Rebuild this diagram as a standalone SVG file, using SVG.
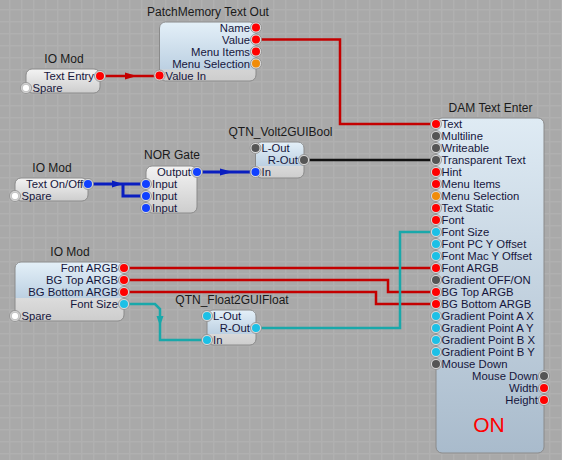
<svg xmlns="http://www.w3.org/2000/svg" width="562" height="460" viewBox="0 0 562 460">
<defs>
<pattern id="grid" x="9" y="9" width="12" height="12" patternUnits="userSpaceOnUse">
<rect width="12" height="12" fill="#a9a9a9"/>
<rect x="0" y="0" width="1.5" height="12" fill="#b0b0b0"/>
<rect x="0" y="0" width="12" height="1.5" fill="#b0b0b0"/>
</pattern>
<linearGradient id="gBlue" x1="0" y1="0" x2="0" y2="1">
<stop offset="0" stop-color="#e4f0f8"/>
<stop offset="1" stop-color="#bcd0e2"/>
</linearGradient>
<linearGradient id="gGray" x1="0" y1="0" x2="0" y2="1">
<stop offset="0" stop-color="#f3f3f3"/>
<stop offset="1" stop-color="#cdcdcd"/>
</linearGradient>
<linearGradient id="gDam" x1="0" y1="0" x2="0" y2="1">
<stop offset="0" stop-color="#dfebf4"/>
<stop offset="1" stop-color="#a9bbcc"/>
</linearGradient>
<style>
.title{font-family:"Liberation Sans",Arial,sans-serif;font-size:12px;fill:#1a1a1a;text-anchor:middle}
.lbl{font-family:"Liberation Sans",Arial,sans-serif;font-size:11.3px;fill:#16163c}
.out{text-anchor:end}
.box{fill:none;stroke:#8a8a8a;stroke-width:1}
.ring{fill:#dcdcdc;stroke:#8a8a8a;stroke-width:0.8}
.pr{fill:#ff0000}
.pg{fill:#555555}
.pc{fill:#1cc0e6}
.po{fill:#f08c0a}
.pb{fill:#1040ff}
.pw{fill:#ffffff;stroke:#888;stroke-width:0.5}
.wr{fill:none;stroke:#c40000;stroke-width:2.5}
.wb{fill:none;stroke:#0a1ec0;stroke-width:3}
.wk{fill:none;stroke:#111111;stroke-width:2.5}
.wt{fill:none;stroke:#19a8aa;stroke-width:2.5}
</style>
</defs>
<rect width="562" height="460" fill="url(#grid)"/>

<g id="connectors">
<path class="wr" d="M100,76 H159.5"/>
<polygon points="125,72.5 137,76 125,79.5" fill="#c40000"/>
<path class="wr" d="M256,39.5 H340 V124 H436"/>
<path class="wb" d="M88,184 H146"/>
<path class="wb" d="M123,184 V196 H146"/>
<polygon points="112,180.5 123,184 112,187.5" fill="#0a1ec0"/>
<path class="wb" d="M197,172 H255.5"/>
<polygon points="220,168.5 233,172 220,175.5" fill="#0a1ec0"/>
<path class="wk" d="M304,160 H436"/>
<path class="wr" d="M124,268 H436"/>
<path class="wr" d="M124,280 H388 V292 H436"/>
<path class="wr" d="M124,292 H376 V304 H436"/>
<path class="wt" d="M124,304 H155 L160,309 V340 H207"/>
<polygon points="156.5,316 163.5,316 160,326" fill="#19a8aa"/>
<path class="wt" d="M256,328 H400 V232 H436"/>
</g>

<g id="patchmemory">
<text class="title" x="208" y="16">PatchMemory Text Out</text>
<rect x="159.5" y="22" width="96.5" height="59" rx="6" fill="url(#gGray)"/>
<path d="M159.5,69.5 V28 Q159.5,22 165.5,22 H250 Q256,22 256,28 V69.5 Z" fill="url(#gBlue)"/>
<rect class="box" x="159.5" y="22" width="96.5" height="59" rx="6"/>
<circle class="ring" cx="256" cy="27.5" r="5.5"/><circle class="pr" cx="256" cy="27.5" r="4"/>
<circle class="ring" cx="256" cy="39.5" r="5.5"/><circle class="pr" cx="256" cy="39.5" r="4"/>
<circle class="ring" cx="256" cy="51.5" r="5.5"/><circle class="pr" cx="256" cy="51.5" r="4"/>
<circle class="ring" cx="256" cy="63.5" r="5.5"/><circle class="po" cx="256" cy="63.5" r="4"/>
<circle class="ring" cx="159.5" cy="75.5" r="5.5"/><circle class="pr" cx="159.5" cy="75.5" r="4"/>
<text class="lbl out" x="250" y="31.5">Name</text>
<text class="lbl out" x="250" y="43.5">Value</text>
<text class="lbl out" x="250" y="55.5">Menu Items</text>
<text class="lbl out" x="250" y="67.5">Menu Selection</text>
<text class="lbl" x="165.5" y="79.5">Value In</text>
</g>

<g id="iomod1">
<text class="title" x="64" y="63">IO Mod</text>
<rect x="26" y="69" width="74" height="24" rx="6" fill="url(#gGray)"/>
<rect class="box" x="26" y="69" width="74" height="24" rx="6"/>
<circle class="ring" cx="100" cy="76" r="5.5"/><circle class="pr" cx="100" cy="76" r="4"/>
<circle class="ring" cx="26" cy="88" r="5.5"/><circle class="pw" cx="26" cy="88" r="3.8"/>
<text class="lbl out" x="94" y="80">Text Entry</text>
<text class="lbl" x="32.5" y="92">Spare</text>
</g>

<g id="iomod2">
<text class="title" x="52" y="171.5">IO Mod</text>
<rect x="15" y="178" width="73" height="23" rx="6" fill="url(#gGray)"/>
<rect class="box" x="15" y="178" width="73" height="23" rx="6"/>
<circle class="ring" cx="88" cy="184" r="5.5"/><circle class="pb" cx="88" cy="184" r="4"/>
<circle class="ring" cx="15" cy="196" r="5.5"/><circle class="pw" cx="15" cy="196" r="3.8"/>
<text class="lbl out" x="83" y="188">Text On/Off</text>
<text class="lbl" x="21.5" y="200">Spare</text>
</g>

<g id="norgate">
<text class="title" x="172" y="159">NOR Gate</text>
<rect x="146" y="166" width="51" height="47" rx="6" fill="url(#gGray)"/>
<rect class="box" x="146" y="166" width="51" height="47" rx="6"/>
<circle class="ring" cx="197" cy="172" r="5.5"/><circle class="pb" cx="197" cy="172" r="4"/>
<circle class="ring" cx="146" cy="184" r="5.5"/><circle class="pb" cx="146" cy="184" r="4"/>
<circle class="ring" cx="146" cy="196" r="5.5"/><circle class="pb" cx="146" cy="196" r="4"/>
<circle class="ring" cx="146" cy="208" r="5.5"/><circle class="pb" cx="146" cy="208" r="4"/>
<text class="lbl out" x="191" y="176">Output</text>
<text class="lbl" x="152" y="188">Input</text>
<text class="lbl" x="152" y="200">Input</text>
<text class="lbl" x="152" y="212">Input</text>
</g>

<g id="volt2guibool">
<text class="title" x="280.5" y="136">QTN_Volt2GUIBool</text>
<rect x="255.5" y="142" width="48.5" height="36" rx="6" fill="url(#gGray)"/>
<path d="M255.5,166 V148 Q255.5,142 261.5,142 H298 Q304,142 304,148 V166 Z" fill="url(#gBlue)"/>
<rect class="box" x="255.5" y="142" width="48.5" height="36" rx="6"/>
<circle class="ring" cx="255.5" cy="148" r="5.5"/><circle class="pg" cx="255.5" cy="148" r="4"/>
<circle class="ring" cx="304" cy="160" r="5.5"/><circle class="pg" cx="304" cy="160" r="4"/>
<circle class="ring" cx="255.5" cy="172" r="5.5"/><circle class="pb" cx="255.5" cy="172" r="4"/>
<text class="lbl" x="261.5" y="152">L-Out</text>
<text class="lbl out" x="298" y="164">R-Out</text>
<text class="lbl" x="261.5" y="176">In</text>
</g>

<g id="iomod3">
<text class="title" x="70" y="255.5">IO Mod</text>
<rect x="15" y="262" width="109" height="59" rx="6" fill="url(#gGray)"/>
<path d="M15,298 V268 Q15,262 21,262 H118 Q124,262 124,268 V298 Z" fill="url(#gBlue)"/>
<rect class="box" x="15" y="262" width="109" height="59" rx="6"/>
<circle class="ring" cx="124" cy="268" r="5.5"/><circle class="pr" cx="124" cy="268" r="4"/>
<circle class="ring" cx="124" cy="280" r="5.5"/><circle class="pr" cx="124" cy="280" r="4"/>
<circle class="ring" cx="124" cy="292" r="5.5"/><circle class="pr" cx="124" cy="292" r="4"/>
<circle class="ring" cx="124" cy="304" r="5.5"/><circle class="pc" cx="124" cy="304" r="4"/>
<circle class="ring" cx="15" cy="316" r="5.5"/><circle class="pw" cx="15" cy="316" r="3.8"/>
<text class="lbl out" x="118" y="272">Font ARGB</text>
<text class="lbl out" x="118" y="284">BG Top ARGB</text>
<text class="lbl out" x="118" y="296">BG Bottom ARGB</text>
<text class="lbl out" x="118" y="308">Font Size</text>
<text class="lbl" x="21.5" y="320">Spare</text>
</g>

<g id="float2guifloat">
<text class="title" x="232" y="303.5">QTN_Float2GUIFloat</text>
<rect x="207" y="310" width="49" height="35" rx="6" fill="url(#gGray)"/>
<path d="M207,334 V316 Q207,310 213,310 H250 Q256,310 256,316 V334 Z" fill="url(#gBlue)"/>
<rect class="box" x="207" y="310" width="49" height="35" rx="6"/>
<circle class="ring" cx="207" cy="316" r="5.5"/><circle class="pc" cx="207" cy="316" r="4"/>
<circle class="ring" cx="256" cy="328" r="5.5"/><circle class="pc" cx="256" cy="328" r="4"/>
<circle class="ring" cx="207" cy="340" r="5.5"/><circle class="pc" cx="207" cy="340" r="4"/>
<text class="lbl" x="213" y="320">L-Out</text>
<text class="lbl out" x="250" y="332">R-Out</text>
<text class="lbl" x="213" y="344">In</text>
</g>

<g id="damtextenter">
<text class="title" x="490.5" y="112">DAM Text Enter</text>
<rect x="436" y="118" width="108" height="335" rx="6" fill="url(#gDam)"/>
<rect class="box" x="436" y="118" width="108" height="335" rx="6"/>
<circle class="ring" cx="436" cy="124" r="5.5"/><circle class="pr" cx="436" cy="124" r="4"/>
<circle class="ring" cx="436" cy="136" r="5.5"/><circle class="pg" cx="436" cy="136" r="4"/>
<circle class="ring" cx="436" cy="148" r="5.5"/><circle class="pg" cx="436" cy="148" r="4"/>
<circle class="ring" cx="436" cy="160" r="5.5"/><circle class="pg" cx="436" cy="160" r="4"/>
<circle class="ring" cx="436" cy="172" r="5.5"/><circle class="pr" cx="436" cy="172" r="4"/>
<circle class="ring" cx="436" cy="184" r="5.5"/><circle class="pr" cx="436" cy="184" r="4"/>
<circle class="ring" cx="436" cy="196" r="5.5"/><circle class="po" cx="436" cy="196" r="4"/>
<circle class="ring" cx="436" cy="208" r="5.5"/><circle class="pr" cx="436" cy="208" r="4"/>
<circle class="ring" cx="436" cy="220" r="5.5"/><circle class="pr" cx="436" cy="220" r="4"/>
<circle class="ring" cx="436" cy="232" r="5.5"/><circle class="pc" cx="436" cy="232" r="4"/>
<circle class="ring" cx="436" cy="244" r="5.5"/><circle class="pc" cx="436" cy="244" r="4"/>
<circle class="ring" cx="436" cy="256" r="5.5"/><circle class="pc" cx="436" cy="256" r="4"/>
<circle class="ring" cx="436" cy="268" r="5.5"/><circle class="pr" cx="436" cy="268" r="4"/>
<circle class="ring" cx="436" cy="280" r="5.5"/><circle class="pg" cx="436" cy="280" r="4"/>
<circle class="ring" cx="436" cy="292" r="5.5"/><circle class="pr" cx="436" cy="292" r="4"/>
<circle class="ring" cx="436" cy="304" r="5.5"/><circle class="pr" cx="436" cy="304" r="4"/>
<circle class="ring" cx="436" cy="316" r="5.5"/><circle class="pc" cx="436" cy="316" r="4"/>
<circle class="ring" cx="436" cy="328" r="5.5"/><circle class="pc" cx="436" cy="328" r="4"/>
<circle class="ring" cx="436" cy="340" r="5.5"/><circle class="pc" cx="436" cy="340" r="4"/>
<circle class="ring" cx="436" cy="352" r="5.5"/><circle class="pc" cx="436" cy="352" r="4"/>
<circle class="ring" cx="436" cy="364" r="5.5"/><circle class="pg" cx="436" cy="364" r="4"/>
<circle class="ring" cx="544" cy="376" r="5.5"/><circle class="pg" cx="544" cy="376" r="4"/>
<circle class="ring" cx="544" cy="388" r="5.5"/><circle class="pr" cx="544" cy="388" r="4"/>
<circle class="ring" cx="544" cy="400" r="5.5"/><circle class="pr" cx="544" cy="400" r="4"/>
<text class="lbl" x="441.5" y="128">Text</text>
<text class="lbl" x="441.5" y="140">Multiline</text>
<text class="lbl" x="441.5" y="152">Writeable</text>
<text class="lbl" x="441.5" y="164">Transparent Text</text>
<text class="lbl" x="441.5" y="176">Hint</text>
<text class="lbl" x="441.5" y="188">Menu Items</text>
<text class="lbl" x="441.5" y="200">Menu Selection</text>
<text class="lbl" x="441.5" y="212">Text Static</text>
<text class="lbl" x="441.5" y="224">Font</text>
<text class="lbl" x="441.5" y="236">Font Size</text>
<text class="lbl" x="441.5" y="248">Font PC Y Offset</text>
<text class="lbl" x="441.5" y="260">Font Mac Y Offset</text>
<text class="lbl" x="441.5" y="272">Font ARGB</text>
<text class="lbl" x="441.5" y="284">Gradient OFF/ON</text>
<text class="lbl" x="441.5" y="296">BG Top ARGB</text>
<text class="lbl" x="441.5" y="308">BG Bottom ARGB</text>
<text class="lbl" x="441.5" y="320">Gradient Point A X</text>
<text class="lbl" x="441.5" y="332">Gradient Point A Y</text>
<text class="lbl" x="441.5" y="344">Gradient Point B X</text>
<text class="lbl" x="441.5" y="356">Gradient Point B Y</text>
<text class="lbl" x="441.5" y="368">Mouse Down</text>
<text class="lbl out" x="538" y="380">Mouse Down</text>
<text class="lbl out" x="538" y="392">Width</text>
<text class="lbl out" x="538" y="404">Height</text>
<text x="489" y="432" font-family="Liberation Sans, Arial, sans-serif" font-size="21" fill="#ff0000" text-anchor="middle">ON</text>
</g>
</svg>
